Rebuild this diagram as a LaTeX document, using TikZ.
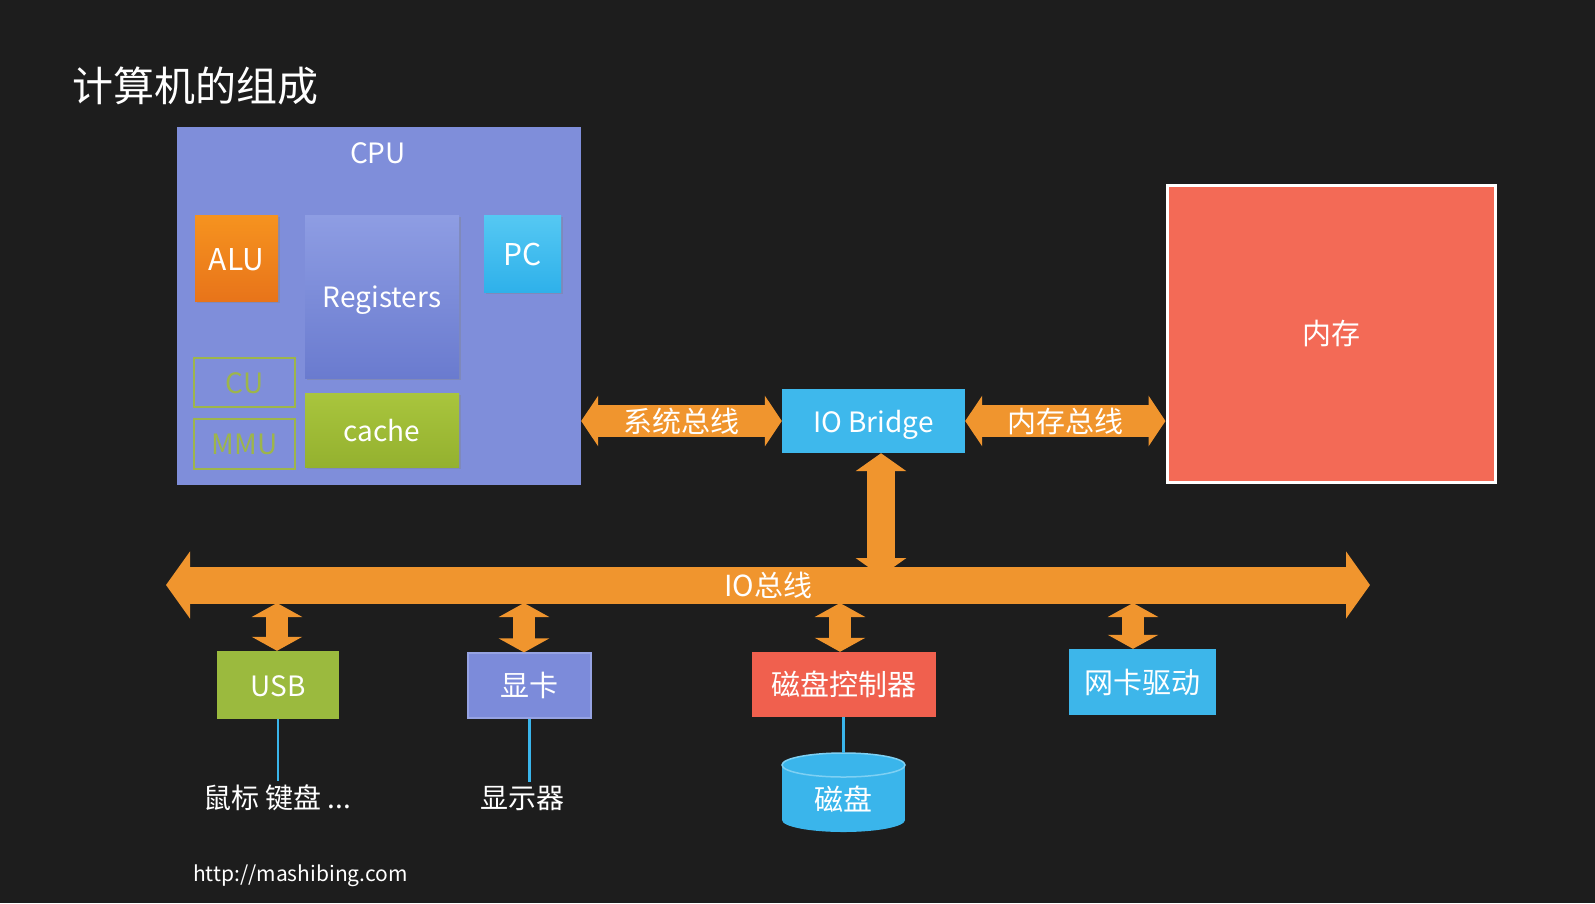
\documentclass[tikz,border=0pt]{standalone}
\usepackage{fontspec}
\setmainfont{Noto Sans CJK SC}
\usetikzlibrary{arrows.meta,shadows}
\newcommand\pxfont[1]{\fontsize{#1}{#1}\selectfont}
\definecolor{bg}{HTML}{1D1D1D}
\definecolor{cpuc}{HTML}{7F8EDA}
\definecolor{aluT}{HTML}{F6931F}
\definecolor{aluB}{HTML}{E8741A}
\definecolor{regT}{HTML}{8E9DE3}
\definecolor{regB}{HTML}{6A7BCF}
\definecolor{pcT}{HTML}{55C8F3}
\definecolor{pcB}{HTML}{2FB1EA}
\definecolor{cacheT}{HTML}{A9C53D}
\definecolor{cacheB}{HTML}{94B12F}
\definecolor{olivec}{HTML}{9DB54B}
\definecolor{memc}{HTML}{F36A56}
\definecolor{orng}{HTML}{F0952E}
\definecolor{iobc}{HTML}{3EB8EC}
\definecolor{usbc}{HTML}{9BBA3E}
\definecolor{xkc}{HTML}{7C8BDA}
\definecolor{xkrim}{HTML}{96A3E3}
\definecolor{dctlc}{HTML}{F0604E}
\definecolor{nicc}{HTML}{3DB6EA}
\definecolor{diskc}{HTML}{3AB5EB}
\definecolor{diskrim}{HTML}{7ED0F3}
\definecolor{linec}{HTML}{3AB5EB}
\begin{document}
\begin{tikzpicture}[x=1pt,y=-1pt,
  box/.style={rectangle, inner sep=0pt, text=white, font=\pxfont{29}},
  lat/.style={font=\pxfont{28}, text height=27pt, text depth=5pt},
  latbig/.style={font=\pxfont{30}, text height=29pt, text depth=5pt},
  sz/.style 2 args={minimum width=#1pt, minimum height=#2pt},
  shd/.style={drop shadow={shadow xshift=2pt, shadow yshift=-2pt, opacity=0.35}},
  outl/.style={rectangle, inner sep=0pt, draw=olivec, line width=2pt, text=olivec,
     font=\pxfont{28}, text height=26pt, text depth=5pt},
  txt/.style={text=white, font=\pxfont{28}, inner sep=4pt},
  dbl/.style n args={3}{draw=orng, line width=#1pt,
     {Triangle[width=#2pt,length=#3pt]}-{Triangle[width=#2pt,length=#3pt]}},
  arrowlbl/.style={text=white, font=\pxfont{29}, inner sep=0pt},
  conn/.style={draw=linec, line width=2.5pt}
]
\fill[bg] (0,0) rectangle (1595,903);
\useasboundingbox (0,0) rectangle (1595,903);

% title
\node[text=white, font=\pxfont{41}, anchor=west, inner sep=0pt] (title) at (72,86) {计算机的组成};

% CPU
\node[box, sz={404}{358}, fill=cpuc] (cpu) at (379,306) {};
\node[box, lat] (cpulbl) at (378,152) {CPU};
\node[box, latbig, sz={83}{86}, top color=aluT, bottom color=aluB, shd] (alu) at (236.5,258) {ALU};
\node[box, lat, sz={154}{163}, top color=regT, bottom color=regB, shd] (reg) at (382,296.5) {Registers};
\node[box, latbig, sz={77}{77}, top color=pcT, bottom color=pcB, shd] (pc) at (522.5,253.5) {PC};
\node[outl, sz={101}{49}] (cu) at (244.5,382.5) {CU};
\node[outl, sz={101}{50}] (mmu) at (244.5,444) {MMU};
\node[box, lat, sz={154}{74}, top color=cacheT, bottom color=cacheB, shd] (cache) at (382,430) {cache};

% memory
\node[box, sz={328}{297}, fill=memc, draw=white, line width=3pt] (mem) at (1331,333.5) {内存};

% IO bridge
\node[box, lat, sz={183}{64}, fill=iobc] (iob) at (873.5,421) {IO Bridge};

% buses
\draw[dbl={32}{50}{17}] (cpu.east |- iob) -- node[arrowlbl] {系统总线} (iob.west);
\draw[dbl={32}{50}{17}] (iob.east) -- node[arrowlbl] {内存总线} (mem.west |- iob);

\coordinate (busL) at (166,585);
\coordinate (busR) at (1370,585);
\draw[dbl={37}{66}{24}] (busL) -- node[arrowlbl] {IO总线} (busR);

\coordinate (iobbus) at (881,576);
\draw[dbl={28}{50}{18}] ([xshift=7.5pt]iob.south) -- (iobbus);

% IO devices
\node[box, lat, sz={122}{68}, fill=usbc] (usb) at (278,685) {USB};
\node[box, sz={123}{65}, fill=xkc, draw=xkrim, line width=1.2pt] (xk) at (529.5,685.5) {显卡};
\node[box, sz={184}{65}, fill=dctlc] (dctl) at (844,684.5) {磁盘控制器};
\node[box, sz={147}{66}, fill=nicc] (nic) at (1142.5,682) {网卡驱动};

\coordinate (b1) at (277,603);
\coordinate (b2) at (524,603);
\coordinate (b3) at (840,603);
\coordinate (b4) at (1133,603);
\draw[dbl={22}{50}{14}] (b1) -- (b1 |- usb.north);
\draw[dbl={22}{50}{14}] (b2) -- (b2 |- xk.north);
\draw[dbl={22}{50}{14}] (b3) -- (b3 |- dctl.north);
\draw[dbl={22}{50}{14}] (b4) -- (b4 |- nic.north);

% peripherals
\node[txt] (lbl1) at (277,798) {鼠标 键盘 ...};
\node[txt] (lbl2) at (522,798) {显示器};
\draw[conn] (usb.south) -- (usb.south |- lbl1.north);
\draw[conn] (xk.south) -- (xk.south |- lbl2.north);

% disk
\coordinate (disktop) at (843.5,753);
\fill[diskc] (843.5,820) ellipse (61.5 and 12);
\fill[diskc] (782,765) rectangle (905,820);
\draw[fill=diskc, draw=diskrim, line width=1.5pt] (843.5,765) ellipse (61.5 and 12);
\node[box] (disk) at (843.5,799) {磁盘};
\draw[conn] (dctl.south -| disktop) -- (disktop);

% url
\node[text=white, font=\pxfont{21}, anchor=west, inner sep=0pt] (url) at (193,876) {http://mashibing.com};
\end{tikzpicture}
\end{document}
